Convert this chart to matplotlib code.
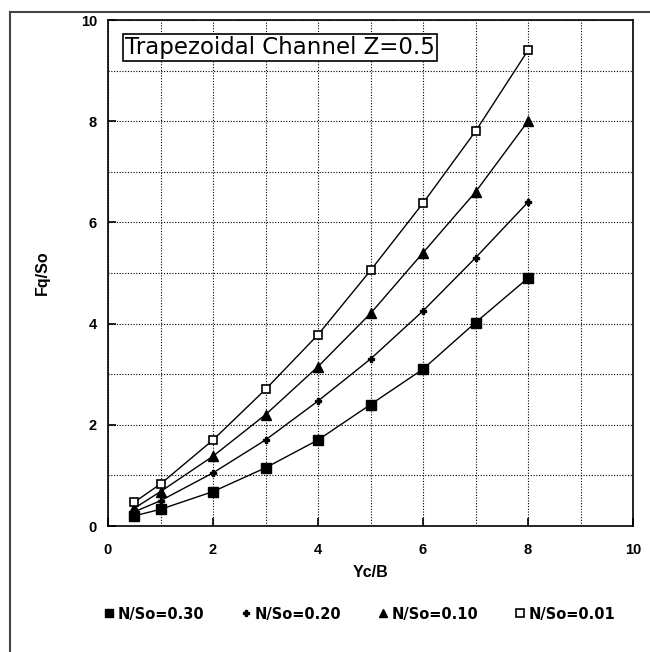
import matplotlib
matplotlib.use("Agg")
import matplotlib.pyplot as plt
from matplotlib.lines import Line2D

plt.rcParams["font.family"] = ["Liberation Sans", "DejaVu Sans"]

yc_b = [0.5, 1, 2, 3, 4, 5, 6, 7, 8]
fq_030 = [0.2, 0.33, 0.68, 1.15, 1.7, 2.4, 3.1, 4.02, 4.9]
fq_020 = [0.28, 0.5, 1.05, 1.7, 2.47, 3.3, 4.25, 5.3, 6.4]
fq_010 = [0.35, 0.68, 1.38, 2.2, 3.15, 4.2, 5.4, 6.6, 8.0]
fq_001 = [0.47, 0.83, 1.7, 2.7, 3.78, 5.05, 6.38, 7.8, 9.4]
labels = ["N/So=0.30", "N/So=0.20", "N/So=0.10", "N/So=0.01"]

fig = plt.figure(figsize=(6.5, 6.52), dpi=100)
ax = fig.add_axes([108 / 650, 126 / 652, 525 / 650, 506 / 652])

styles = [
    dict(marker="s", ms=6.5, mfc="black", mec="black"),
    dict(marker="P", ms=5, mfc="black", mec="black"),
    dict(marker="^", ms=6.5, mfc="black", mec="black"),
    dict(marker="s", ms=6, mfc="white", mec="black", mew=1.2),
]
for ys, st, lab in zip([fq_030, fq_020, fq_010, fq_001], styles, labels):
    ax.plot(yc_b, ys, color="black", lw=1.0, label=lab, **st)

ax.set_xlim(0, 10)
ax.set_ylim(0, 10)
ax.set_xticks([0, 2, 4, 6, 8, 10])
ax.set_yticks([0, 2, 4, 6, 8, 10])
ax.set_xticks(range(0, 11), minor=True)
ax.set_yticks(range(0, 11), minor=True)
ax.tick_params(which="major", direction="in", length=6, width=1.2, labelsize=10.5)
ax.tick_params(axis="x", which="major", pad=12)
ax.tick_params(axis="y", which="major", pad=8)
ax.tick_params(which="minor", length=0)
for lbl in ax.get_xticklabels() + ax.get_yticklabels():
    lbl.set_fontweight("bold")
ax.grid(which="both", color="black", ls=(0, (1, 1.5)), lw=0.8)
for s in ax.spines.values():
    s.set_linewidth(1.2)

ax.set_xlabel("Yc/B", fontsize=11.5, fontweight="bold", labelpad=6)
ax.set_ylabel("Fq/So", fontsize=11.5, fontweight="bold", labelpad=22)

ax.text(0.033, 0.968, "Trapezoidal Channel Z=0.5", transform=ax.transAxes,
        fontsize=16.5, family="DejaVu Sans", va="top", ha="left",
        bbox=dict(boxstyle="square,pad=0.08", fc="white", ec="black", lw=1.2))

leg_handles = [Line2D([], [], ls="none", color="black", **{**st, "ms": st["ms"] * 0.85})
               for st in styles]
fig.legend(leg_handles, labels, loc="center", bbox_to_anchor=(360 / 650, 1 - 614 / 652),
           ncol=4, frameon=False, handlelength=0.6, handletextpad=0.25,
           columnspacing=2.6, prop=dict(family="DejaVu Sans", weight="bold", size=10.5))

# outer frame
fig.add_artist(Line2D([10 / 650, 1], [1 - 12 / 652] * 2, transform=fig.transFigure,
                      color="#444444", lw=1.5))
fig.add_artist(Line2D([10 / 650] * 2, [0, 1 - 12 / 652], transform=fig.transFigure,
                      color="#444444", lw=1.5))

fig.savefig("out.png", dpi=100)
